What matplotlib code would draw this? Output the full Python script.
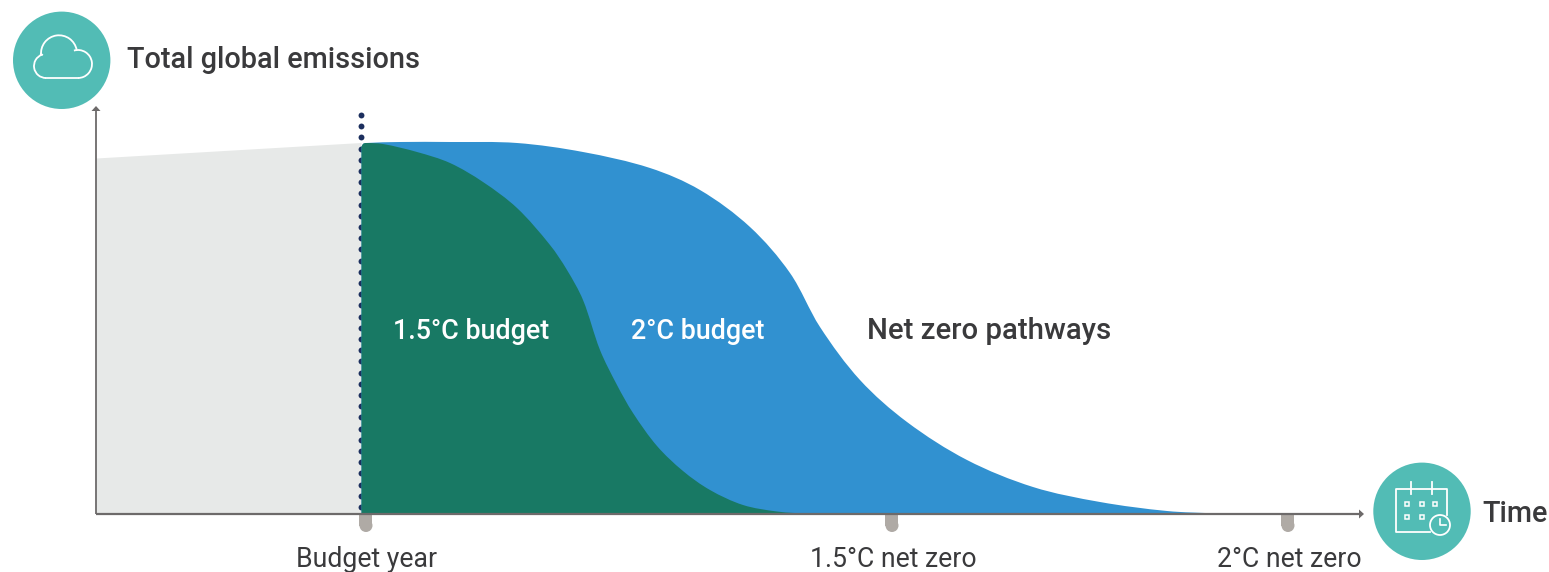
import numpy as np
import matplotlib
matplotlib.use("Agg")
import matplotlib.pyplot as plt
from matplotlib.patches import Circle, Rectangle, Arc, PathPatch
from matplotlib.path import Path

FONT = "Roboto"
DARK = "#3a3a3c"

history_t = [0, 265]
history_v = [356, 371.5]

budget15_t = [265.5, 267, 270, 287, 321, 354, 387, 421, 454, 471, 487, 504, 521, 537, 561, 587, 614, 647, 681, 714]
budget15_v = [367, 370, 371, 370, 362, 351, 332, 306, 269, 244, 214, 164, 129, 101, 68, 43, 24, 9, 2.5, 0]

budget2_t = [265.5, 267, 270, 304, 354, 421, 487, 554, 604, 654, 694, 724, 764, 811, 871, 937, 1004, 1071, 1121]
budget2_v = [367, 370, 371, 372, 372, 371, 362, 346, 324, 287, 241, 187, 134, 92, 54, 27, 12, 3, 0.5]

tick_t = [270, 796, 1192]
tick_labels = ["Budget year", "1.5°C net zero", "2°C net zero"]

X0, Y0 = 96, 514  # axis origin in figure pixels
W, H = 1549, 572


def smooth_area(ts, vs):
    """Area under a smooth curve running through the given points."""
    p = np.column_stack([ts, vs]).astype(float)
    h = np.hypot(*np.diff(p, axis=0).T)
    m = np.zeros_like(p)
    m[0] = (p[1] - p[0]) / h[0]
    m[-1] = (p[-1] - p[-2]) / h[-1]
    m[1:-1] = (p[2:] - p[:-2]) / (h[1:] + h[:-1])[:, None]
    verts, codes = [(ts[0], 0), tuple(p[0])], [Path.MOVETO, Path.LINETO]
    for i in range(len(p) - 1):
        verts += [tuple(p[i] + m[i] * h[i] / 3), tuple(p[i + 1] - m[i + 1] * h[i] / 3), tuple(p[i + 1])]
        codes += [Path.CURVE4] * 3
    verts += [(ts[-1], 0), (ts[0], 0)]
    codes += [Path.LINETO, Path.CLOSEPOLY]
    return Path(verts, codes)


fig = plt.figure(figsize=(W / 100, H / 100), dpi=100, facecolor="white")
ax = fig.add_axes([0, 0, 1, 1])
ax.set_xlim(-X0, W - X0)
ax.set_ylim(Y0 - H, Y0)
ax.axis("off")

ax.fill_between(history_t, history_v, 0, color="#e7e9e8", lw=0, zorder=1)
ax.add_patch(PathPatch(smooth_area(budget2_t, budget2_v), fc="#3191d0", ec="none", zorder=2))
ax.add_patch(PathPatch(smooth_area(budget15_t, budget15_v), fc="#187964", ec="none", zorder=3))

# dotted budget-year line
dots_v = np.arange(7, 402, 11.2)
ax.scatter([265.3] * len(dots_v), dots_v, s=18, color="#1c2f5e", lw=0, zorder=1.5)

# axes
AXC = "#6d6a6a"
ax.plot([0, 0], [0, 404], color=AXC, lw=1.3, zorder=5, solid_capstyle="butt")
ax.plot([0, 1264], [0, 0], color=AXC, lw=1.6, zorder=5, solid_capstyle="butt")
ax.fill([0, -4.5, 4.5], [408, 403, 403], color=AXC, lw=0, zorder=5)
ax.fill([1268, 1263, 1263], [0, -4.5, 4.5], color=AXC, lw=0, zorder=5)

# ticks
TICKC = "#afaaa5"
for t, lab in zip(tick_t, tick_labels):
    ax.add_patch(Rectangle((t - 6.5, -11.5), 13, 11.5, fc=TICKC, ec="none", zorder=4))
    ax.add_patch(Circle((t, -11.5), 6.5, fc=TICKC, ec="none", zorder=4))
    ax.text(t + 1, -53, lab, ha="center", va="baseline", fontsize=19.2, family=FONT, color=DARK)

# text labels
ax.text(297, 175, "1.5°C budget", color="white", fontsize=19.4, family=FONT, weight="medium", va="baseline", zorder=6)
ax.text(535, 175, "2°C budget", color="white", fontsize=19.4, family=FONT, weight="medium", va="baseline", zorder=6)
ax.text(771, 175, "Net zero pathways", color=DARK, fontsize=21.2, family=FONT, weight="medium", va="baseline", zorder=6)
ax.text(31, 446, "Total global emissions", color=DARK, fontsize=20.8, family=FONT, weight="medium", va="baseline")
ax.text(1386, -7.7, "Time", color=DARK, fontsize=20.8, family=FONT, weight="medium", va="baseline")

# icons
TEAL = "#52bcb5"
ax.add_patch(Circle((-34.3, 453.7), 48.7, fc=TEAL, ec="none", zorder=6))
ax.add_patch(Circle((1326, 2.7), 48.7, fc=TEAL, ec="none", zorder=6))

# cloud icon
lw = 1.3
cx, cy = -34.3, 453.7
ax.add_patch(Arc((cx - 15.7, cy - 5.7), 24, 24, theta1=110, theta2=270, color="white", lw=lw, zorder=7))
ax.add_patch(Arc((cx - 2.7, cy + 7), 36, 36, theta1=11, theta2=186, color="white", lw=lw, zorder=7))
ax.add_patch(Arc((cx + 16.3, cy - 3.7), 28, 28, theta1=-90, theta2=107, color="white", lw=lw, zorder=7))
ax.plot([cx - 15.7, cx + 16.3], [cy - 17.7, cy - 17.7], color="white", lw=lw, zorder=7)
ax.plot([cx - 20.7, cx - 19.6], [cy + 6.3, cy + 5.6], color="white", lw=lw, zorder=7)

# calendar icon
cx, cy = 1326, 2.7
ax.plot([cx + 8, cx - 26, cx - 26, cx + 25, cx + 25],
        [cy - 20.7, cy - 20.7, cy + 22.3, cy + 22.3, cy - 4], color="white", lw=lw, zorder=7)
for dx in (-11, 10):
    ax.plot([cx + dx, cx + dx], [cy + 17.3, cy + 29.3], color="white", lw=lw, zorder=7)
for dx, dy in [(-15, 7.3), (0, 7.3), (13, 7.3), (-15, -5.7), (0, -5.7)]:
    ax.add_patch(Rectangle((cx + dx - 2, cy + dy - 2), 4, 4, fc="none", ec="white", lw=1.1, zorder=7))
ax.add_patch(Circle((cx + 18, cy - 13.7), 10, fc=TEAL, ec="white", lw=lw, zorder=7))
ax.plot([cx + 18, cx + 18, cx + 24], [cy - 7.7, cy - 13.7, cy - 13.7], color="white", lw=1.2, zorder=8)

fig.savefig("out.png", dpi=100, facecolor="white")
